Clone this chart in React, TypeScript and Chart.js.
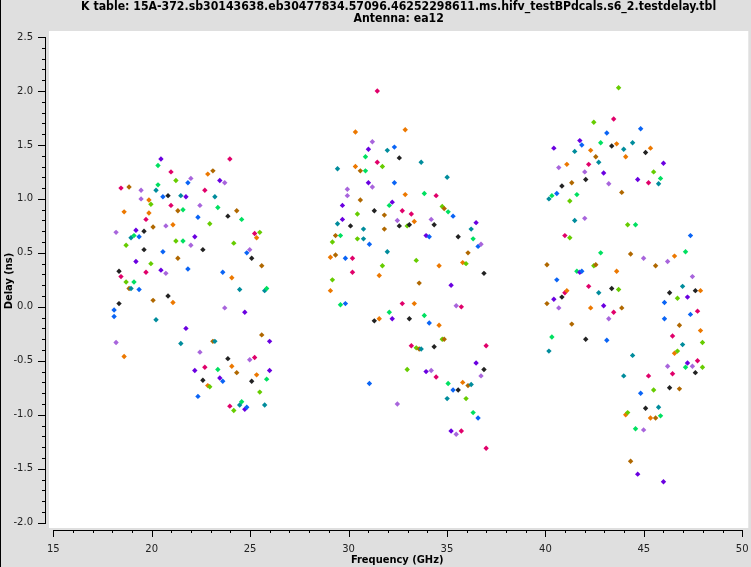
import React, { useEffect, useRef } from "react";
import { Chart, registerables } from "chart.js";

Chart.register(...registerables);

const TITLE_LINE_1 =
  "K table: 15A-372.sb30143638.eb30477834.57096.46252298611.ms.hifv_testBPdcals.s6_2.testdelay.tbl";
const TITLE_LINE_2 = "Antenna: ea12";
const X_TITLE = "Frequency (GHz)";
const Y_TITLE = "Delay (ns)";

const X_TICKS = [15, 20, 25, 30, 35, 40, 45, 50];
const Y_TICKS = [-2.0, -1.5, -1.0, -0.5, 0.0, 0.5, 1.0, 1.5, 2.0, 2.5];

// ---- K band (group 1) ----
const freqG1 = [
  18.09, 18.19, 18.34, 18.44, 18.6, 18.7, 18.85, 18.95, 19.1, 19.2, 19.36, 19.46, 19.61, 19.71, 19.86, 19.96,
  20.07, 20.22, 20.32, 20.47, 20.57, 20.72, 20.83, 20.98, 21.08, 21.23, 21.33, 21.48, 21.59, 21.74, 21.84, 21.99,
  22.19, 22.35, 22.45, 22.6, 22.7, 22.85, 22.95, 23.11, 23.21, 23.36, 23.46, 23.61, 23.71, 23.87, 23.97, 24.07,
  24.17, 24.32, 24.47, 24.57, 24.73, 24.83, 24.98, 25.08, 25.23, 25.33, 25.49, 25.59, 25.74, 25.84, 25.99,
];
const polAG1 = [
  -0.03, 0.69, 0.33, 1.1, 0.88, 0.57, 1.11, 0.64, 0.66, 0.71, 0.65, 1.08, 0.7, 0.81, 0.99, 0.95,
  0.74, 1.08, 1.31, 1.37, 1.02, 0.75, 1.03, 1.25, 0.76, 1.17, 0.89, 1.03, 0.9, 1.02, 1.15, 1.19,
  0.65, 0.83, 0.94, 0.53, 1.08, 1.23, 0.77, 1.26, 1.02, 0.92, 1.17, 0.32, 1.15, 0.84, 1.37, 0.27,
  0.59, 0.89, 0.16, 0.81, -0.05, 0.5, 0.53, 0.45, 0.68, 0.64, 0.69, 0.38, 0.15, 0.17, -0.32,
];
const polBG1 = [
  -0.09, -0.33, 0.03, 0.28, -0.46, 0.23, 0.17, 0.17, 0.23, 0.42, 0.16, 1.0, 0.53, 0.32, 0.87, 0.4,
  0.06, -0.12, 1.13, 0.34, 0.51, 0.31, 0.1, 0.94, 0.04, 0.61, 0.45, -0.34, 0.61, -0.2, 0.35, 0.57,
  -0.59, -0.83, -0.42, -0.68, -0.56, -0.73, -0.74, -0.32, -0.32, -0.58, -0.66, -0.69, -0.01, -0.48, -0.92, -0.55,
  -0.96, -0.61, -0.91, -0.88, -0.95, -0.93, -0.49, -0.69, -0.47, -0.63, -0.79, -0.26, -0.91, -0.67, -0.59,
];
const spwG1 = [
  0, 1, 2, 3, 4, 5, 6, 7, 8, 9, 10, 11, 12, 13, 14, 15, 16, 17, 18, 19, 20, 21, 22, 23, 24, 25, 26, 27, 28, 29, 30, 31,
  39, 40, 41, 42, 43, 44, 45, 46, 47, 48, 49, 50, 51, 52, 53, 54, 55, 56, 57, 58, 59, 60, 61, 62, 63, 64, 65, 66, 67,
  68, 69,
];

// ---- Ka band low (group 2) ----
const freqG2 = [
  29.08, 29.18, 29.34, 29.44, 29.59, 29.69, 29.84, 29.94, 30.1, 30.2, 30.35, 30.45, 30.6, 30.76, 30.86, 31.01,
  31.06, 31.21, 31.31, 31.46, 31.56, 31.72, 31.82, 31.97, 32.07, 32.22, 32.33, 32.48, 32.58, 32.73, 32.88, 32.98,
  33.09, 33.19, 33.34, 33.44, 33.59, 33.69, 33.85, 33.94, 34.1, 34.2, 34.35, 34.45, 34.6, 34.76, 34.86, 35.01,
  35.06, 35.21, 35.31, 35.47, 35.57, 35.73, 35.8, 35.97, 36.07, 36.23, 36.33, 36.48, 36.58, 36.73, 36.88, 36.99,
];
const polAG2 = [
  0.46, 0.6, 0.66, 1.28, 0.66, 0.94, 0.45, 1.09, 0.75, 0.45, 1.62, 0.86, 1.26, 0.72, 1.39, 1.46,
  0.58, 1.53, 0.89, 2.0, 0.29, 1.3, 0.85, 1.45, 0.94, 0.97, 1.48, 0.8, 1.38, 0.89, 1.64, 0.75,
  0.76, 0.86, 0.79, 0.43, 0.22, 1.34, 1.05, 0.66, 0.65, 0.81, 0.76, 1.03, 0.38, 0.93, 0.91, 1.2,
  0.88, 0.2, 0.84, 0.01, 0.65, 0.0, 0.41, 0.4, 0.5, 0.72, 0.63, 0.78, 0.56, 0.58, 0.31, -0.36,
];
const polBG2 = [
  0.15, 0.25, 0.48, 0.77, 0.02, 0.81, 0.03, 1.03, null, 0.32, 1.3, 0.63, 0.99, 0.63, 1.26, 1.15,
  -0.71, 1.11, -0.13, 1.34, -0.11, 0.38, 0.72, 0.51, -0.05, -0.11, 1.15, -0.9, 0.75, 0.03, 1.04, -0.58,
  -0.11, -0.36, 0.03, -0.38, -0.39, -0.39, -0.08, -0.6, -0.15, -0.59, -0.37, -0.65, -0.17, -0.3, -0.3, -0.85,
  -0.71, -1.15, -0.77, -1.18, -0.77, -1.15, -0.7, -0.85, -0.73, -0.72, -0.98, -0.52, -1.03, -0.64, -0.58, -1.31,
];
const spwG2 = [
  74, 75, 76, 77, 78, 79, 80, 81, 82, 83, 84, 85, 86, 87, 88, 89, 90, 91, 92, 93, 94, 95, 96, 97, 98, 99, 100, 101,
  102, 103, 104, 105, 112, 113, 114, 115, 116, 117, 118, 119, 120, 121, 122, 123, 124, 125, 126, 127, 128, 129, 130,
  131, 132, 133, 134, 135, 136, 137, 138, 139, 140, 141, 142, 143,
];

// ---- Q band (group 3) ----
const freqG3 = [
  40.08, 40.18, 40.33, 40.43, 40.58, 40.68, 40.84, 40.99, 41.09, 41.24, 41.34, 41.49, 41.6, 41.75, 41.85, 42.0,
  42.05, 42.2, 42.3, 42.46, 42.56, 42.71, 42.81, 42.96, 43.12, 43.22, 43.37, 43.47, 43.62, 43.72, 43.88, 43.98,
  44.08, 44.18, 44.33, 44.43, 44.58, 44.69, 44.84, 44.99, 45.09, 45.24, 45.34, 45.5, 45.6, 45.75, 45.85, 46.0,
  46.05, 46.21, 46.31, 46.46, 46.56, 46.71, 46.81, 46.97, 47.12, 47.22, 47.37, 47.47, 47.62, 47.73, 47.88, 47.98,
];
const polAG3 = [
  0.39, 1.0, 1.03, 1.47, 1.05, 1.29, 1.12, 0.66, 1.32, 0.98, 1.15, 1.44, 1.04, 1.54, 1.5, 1.25,
  1.18, 1.32, 1.45, 1.71, 1.39, 1.34, 1.52, 1.24, 1.61, 1.14, 1.49, 1.74, 1.51, 2.03, 1.06, 1.46,
  1.39, 0.76, 0.49, 1.52, 0.76, 1.18, 1.65, 0.45, 1.43, 1.15, 1.47, 1.25, 0.38, 1.14, 1.19, 1.33,
  0.04, 0.42, 0.13, -0.27, 0.47, 0.08, -0.17, 0.19, 0.51, 0.09, 0.66, 0.28, 0.15, -0.04, 0.15, -0.33,
];
const polBG3 = [
  0.03, -0.41, -0.28, 0.07, 0.25, -0.01, 0.09, 0.13, 0.15, 0.64, -0.16, 0.8, 0.33, 0.32, 0.33, 0.82,
  -0.3, 0.19, -0.01, 0.38, 0.39, 0.13, 0.5, 0.01, -0.31, -0.11, 0.17, -0.05, 0.33, 0.16, -0.01, -0.64,
  -1.0, -0.98, -1.43, -0.45, -1.13, -1.55, -0.8, -1.14, -0.94, -0.64, -1.03, -0.77, -1.03, -0.93, -1.01, -1.62,
  -0.11, -0.55, -0.75, -0.62, -0.43, -0.41, -0.76, -0.35, -0.56, -0.52, -0.07, -0.55, -0.61, -0.5, -0.22, -0.56,
];
const spwG3 = [
  146, 147, 148, 149, 150, 151, 152, 153, 154, 155, 156, 157, 158, 159, 160, 161, 162, 163, 164, 165, 166, 167, 168,
  169, 170, 171, 172, 173, 174, 175, 176, 177, 184, 185, 186, 187, 188, 189, 190, 191, 192, 193, 194, 195, 196, 197,
  198, 199, 200, 201, 202, 203, 204, 205, 206, 207, 208, 209, 210, 211, 212, 213, 214, 215,
];

// colour cycle by spectral window
const PALETTE = [
  "#0a64f5", // blue
  "#a865dc", // lavender
  "#222222", // black
  "#e0006a", // crimson
  "#ec7800", // orange
  "#66cc00", // yellow-green
  "#b06800", // brown
  "#008c9c", // teal
  "#00e060", // green
  "#6a00e0", // purple
];

const COND = '"DejaVu Sans Condensed", "DejaVu Sans", sans-serif';
const PLAIN = '"DejaVu Sans", sans-serif';

const GROUPS = [
  { freq: freqG1, a: polAG1, b: polBG1, spw: spwG1 },
  { freq: freqG2, a: polAG2, b: polBG2, spw: spwG2 },
  { freq: freqG3, a: polAG3, b: polBG3, spw: spwG3 },
];

const framePlugin = {
  id: "framePlugin",
  beforeDraw(chart: any) {
    const { ctx, width, height, chartArea: ca } = chart;
    ctx.save();
    ctx.fillStyle = "#dfdfdf";
    ctx.fillRect(0, 0, width, height);
    ctx.fillStyle = "#ffffff";
    ctx.fillRect(ca.left + 3, ca.top, ca.right - ca.left - 3, ca.bottom - ca.top - 3);
    ctx.fillStyle = "#000000";
    ctx.fillRect(0, 0, 1, height);
    // title
    ctx.fillStyle = "#000";
    ctx.font = `bold 12.2px ${COND}`;
    ctx.textAlign = "center";
    ctx.textBaseline = "middle";
    const cx = (ca.left + 3 + ca.right) / 2;
    ctx.fillText(TITLE_LINE_1, cx, 7);
    ctx.fillText(TITLE_LINE_2, cx, 19);
    ctx.restore();
  },
  afterDraw(chart: any) {
    const { ctx, chartArea: ca, scales } = chart;
    const xs = scales.x;
    const ys = scales.y;
    ctx.save();
    ctx.strokeStyle = "#000";
    ctx.lineWidth = 1;
    ctx.beginPath();
    // y axis
    const ax = ca.left - 0.5;
    const yTop = Math.round(ys.getPixelForValue(Y_TICKS[Y_TICKS.length - 1])) + 0.5;
    const yBot = Math.round(ys.getPixelForValue(Y_TICKS[0])) + 0.5;
    ctx.moveTo(ax, yTop);
    ctx.lineTo(ax, yBot);
    for (let k = Math.round(Y_TICKS[0] * 10); k <= Math.round(Y_TICKS[Y_TICKS.length - 1] * 10); k++) {
      const py = Math.round(ys.getPixelForValue(k / 10)) + 0.5;
      const len = k % 5 === 0 ? 8 : 4;
      ctx.moveTo(ca.left, py);
      ctx.lineTo(ca.left - len, py);
    }
    // x axis
    const ay = ca.bottom - 0.5;
    const xL = Math.round(xs.getPixelForValue(X_TICKS[0])) + 0.5;
    const xR = Math.round(xs.getPixelForValue(X_TICKS[X_TICKS.length - 1])) + 0.5;
    ctx.moveTo(xL, ay);
    ctx.lineTo(xR, ay);
    for (let v = X_TICKS[0]; v <= X_TICKS[X_TICKS.length - 1]; v++) {
      const px = Math.round(xs.getPixelForValue(v)) + 0.5;
      const len = v % 5 === 0 ? 7 : 3;
      ctx.moveTo(px, ca.bottom - 1);
      ctx.lineTo(px, ca.bottom - 1 + len);
    }
    ctx.stroke();
    ctx.restore();
  },
};

export default function App() {
  const ref = useRef<HTMLCanvasElement | null>(null);

  useEffect(() => {
    if (!ref.current) return;
    const datasets: any[] = [];
    GROUPS.forEach((g) => {
      [g.a, g.b].forEach((pol) => {
        datasets.push({
          data: g.freq.map((f, i) => ({ x: f, y: pol[i] })),
          pointBackgroundColor: g.spw.map((s) => PALETTE[s % PALETTE.length]),
          pointStyle: "rectRot",
          pointRadius: 2.7,
          pointHoverRadius: 2.7,
          pointBorderWidth: 0,
          borderWidth: 0,
          showLine: false,
        });
      });
    });

    const chart = new Chart(ref.current, {
      type: "scatter",
      data: { datasets },
      plugins: [framePlugin],
      options: {
        responsive: false,
        animation: false,
        devicePixelRatio: 1,
        events: [],
        layout: { padding: { top: 31, left: 0, right: 0, bottom: 0 } },
        plugins: {
          legend: { display: false },
          tooltip: { enabled: false },
          title: { display: false },
        },
        scales: {
          x: {
            type: "linear",
            position: "bottom",
            min: 14.6306,
            max: 50.3087,
            afterBuildTicks: (s: any) => {
              s.ticks = X_TICKS.map((v) => ({ value: v }));
            },
            afterFit: (s: any) => {
              s.height = 36;
              s.paddingLeft = 0;
              s.paddingRight = 0;
            },
            grid: { display: false, drawTicks: false, tickLength: 0 },
            border: { display: false },
            ticks: {
              autoSkip: false,
              maxRotation: 0,
              padding: 12,
              color: "#222",
              font: { family: PLAIN, size: 10 },
              callback: (v: any) => String(v),
            },
            title: {
              display: true,
              text: X_TITLE,
              color: "#000",
              font: { family: COND, size: 11, weight: "bold" },
              padding: { top: 0, bottom: 0 },
            },
          },
          y: {
            type: "linear",
            position: "left",
            min: -2.0769,
            max: 2.5556,
            afterBuildTicks: (s: any) => {
              s.ticks = Y_TICKS.map((v) => ({ value: v }));
            },
            afterFit: (s: any) => {
              s.width = 46;
              s.paddingTop = 0;
              s.paddingBottom = 0;
            },
            grid: { display: false, drawTicks: false, tickLength: 0 },
            border: { display: false },
            ticks: {
              autoSkip: false,
              padding: 13,
              color: "#222",
              font: { family: PLAIN, size: 10 },
              callback: (v: any) => Number(v).toFixed(1),
            },
            title: {
              display: true,
              text: Y_TITLE,
              color: "#000",
              font: { family: COND, size: 11, weight: "bold" },
              padding: { top: 3, bottom: 0 },
            },
          },
        },
      } as any,
    });
    return () => chart.destroy();
  }, []);

  return (
    <canvas
      ref={ref}
      width={751}
      height={567}
      style={{ position: "absolute", left: 0, top: 0, display: "block", width: 751, height: 567 }}
    />
  );
}
